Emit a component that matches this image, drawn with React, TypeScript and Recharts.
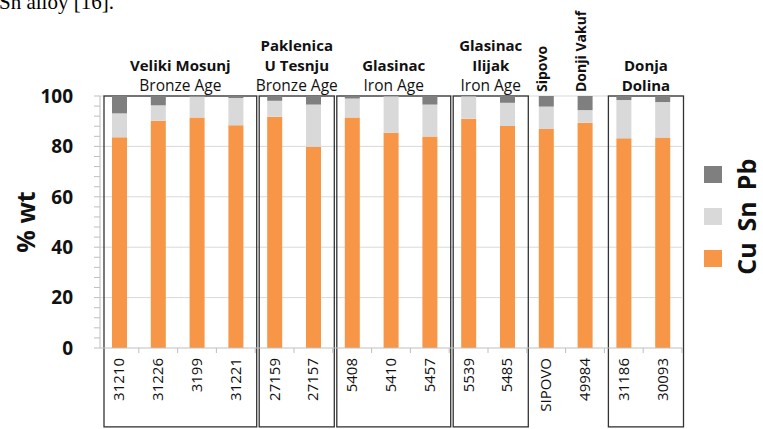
import React from 'react';
import {
  BarChart,
  Bar,
  XAxis,
  YAxis,
  CartesianGrid,
  Legend,
  ReferenceArea,
  Label,
} from 'recharts';

const categories = ['31210', '31226', '3199', '31221', '27159', '27157', '5408', '5410', '5457', '5539', '5485', 'SIPOVO', '49984', '31186', '30093'];
const cuValues = [83.6, 90.2, 91.5, 88.4, 91.8, 79.9, 91.5, 85.4, 83.9, 91.0, 88.1, 86.9, 89.4, 83.2, 83.5];
const snValues = [9.5, 6.1, 8.3, 10.8, 6.3, 16.7, 7.5, 14.5, 12.7, 8.9, 9.2, 8.9, 5.0, 15.2, 14.1];
const pbValues = [6.9, 3.7, 0.2, 0.8, 1.9, 3.4, 1.0, 0.1, 3.4, 0.1, 2.7, 4.2, 5.6, 1.6, 2.4];
const yTicks = [0, 4, 8, 12, 16, 20, 24, 28, 32, 36, 40, 44, 48, 52, 56, 60, 64, 68, 72, 76, 80, 84, 88, 92, 96, 100];
const yGridValues = [20, 40, 60, 80, 100];
const legendOrder = ['Pb', 'Sn', 'Cu']; // top to bottom

const groups = [
  { from: '31210', to: '31221', title: ['Veliki Mosunj'], sub: 'Bronze Age', vertical: false },
  { from: '27159', to: '27157', title: ['Paklenica', 'U Tesnju'], sub: 'Bronze Age', vertical: false },
  { from: '5408', to: '5457', title: ['Glasinac'], sub: 'Iron Age', vertical: false },
  { from: '5539', to: '5485', title: ['Glasinac', 'Ilijak'], sub: 'Iron Age', vertical: false },
  { from: 'SIPOVO', to: 'SIPOVO', title: ['Sipovo'], sub: '', vertical: true },
  { from: '49984', to: '49984', title: ['Donji Vakuf'], sub: '', vertical: true },
  { from: '31186', to: '30093', title: ['Donja', 'Dolina'], sub: '', vertical: false },
];

const colors: Record<string, string> = { Cu: '#F79646', Sn: '#D9D9D9', Pb: '#7F7F7F' };
const font = '"Open Sans", sans-serif';
const boxBottom = -31.3; // boxes run down past the axis labels
const boxTop = 100;

const data = categories.map((name, i) => ({
  name,
  Cu: cuValues[i],
  Sn: snValues[i],
  Pb: pbValues[i],
}));

function CategoryTick(props: any) {
  const { x, y, payload } = props;
  const half = payload?.offset ?? 19.4;
  return (
    <g>
      <line x1={x + half} x2={x + half} y1={y} y2={y + 5} stroke="#bfbfbf" />
      <text
        transform={`translate(${x + 5},${y + 10}) rotate(-90)`}
        textAnchor="end"
        fontFamily={font}
        fontSize={15}
        fill="#111"
      >
        {payload.value}
      </text>
    </g>
  );
}

const boxShape = (vertical: boolean) => (props: any) => {
  if (vertical) return <g />;
  const { x, y, width, height } = props;
  return <rect x={x + 4} y={y} width={width - 2.5} height={height} fill="none" stroke="#333" strokeWidth={1.3} />;
};

const groupLabel = (g: (typeof groups)[number]) => (props: any) => {
  const vb = props.viewBox;
  if (!vb) return null;
  if (g.vertical) {
    const cx = vb.x + vb.width / 2;
    return (
      <text
        transform={`translate(${cx + 1},${vb.y - 4}) rotate(-90)`}
        textAnchor="start"
        fontFamily={font}
        fontWeight="bold"
        fontSize={14}
        fill="#111"
      >
        {g.title[0]}
      </text>
    );
  }
  const cx = vb.x + vb.width / 2 + 2.75;
  const lines = g.sub ? [...g.title, g.sub] : g.title;
  const base = vb.y - 5;
  return (
    <g>
      {lines.map((line, i) => {
        const isSub = !!g.sub && i === lines.length - 1;
        return (
          <text
            key={i}
            x={cx}
            y={base - (lines.length - 1 - i) * 20}
            textAnchor="middle"
            fontFamily={font}
            fontWeight={isSub ? 'normal' : 'bold'}
            fontSize={isSub ? 15.5 : 15}
            fill="#111"
          >
            {line}
          </text>
        );
      })}
    </g>
  );
};

function LegendContent() {
  return (
    <svg width={63} height={160} style={{ overflow: 'visible' }}>
      {legendOrder.map((n, i) => (
        <g key={n}>
          <rect x={4} y={26 + i * 42} width={18} height={17} fill={colors[n]} />
          <text
            transform={`translate(56,${34.5 + i * 42}) rotate(-90)`}
            textAnchor="middle"
            fontFamily={font}
            fontWeight="bold"
            fontSize={25}
            fill="#111"
          >
            {n}
          </text>
        </g>
      ))}
    </svg>
  );
}

function AxisTitle(props: any) {
  const vb = props.viewBox;
  return (
    <text
      transform={`translate(35,${vb.y + vb.height / 2}) rotate(-90)`}
      textAnchor="middle"
      fontFamily={font}
      fontWeight="bold"
      fontSize={25}
      fill="#111"
    >
      % wt
    </text>
  );
}

export default function App() {
  return (
    <div style={{ position: 'absolute', left: 0, top: 0, width: 763, height: 429, overflow: 'hidden', background: '#fff' }}>
      <svg width={200} height={20} style={{ position: 'absolute', left: 0, top: 0 }}>
        <text x={-1} y={8.5} fontFamily='"Liberation Serif", serif' fontSize={21} fill="#000">
          Sn alloy [16].
        </text>
      </svg>
      <BarChart width={763} height={429} data={data} margin={{ top: 96, right: 81, bottom: 6, left: 0 }} barSize={15}>
        <CartesianGrid vertical={false} horizontalValues={yGridValues} stroke="#d9d9d9" />
        <XAxis
          dataKey="name"
          interval={0}
          height={75}
          tickSize={0}
          tickMargin={0}
          tickLine={false}
          axisLine={{ stroke: '#bfbfbf' }}
          tick={<CategoryTick />}
        />
        <YAxis
          width={100}
          domain={[0, 100]}
          ticks={yTicks}
          interval={0}
          tickSize={6}
          tickMargin={21}
          tickLine={{ stroke: '#bfbfbf' }}
          axisLine={{ stroke: '#bfbfbf' }}
          tickFormatter={(v) => (v % 20 === 0 ? String(v) : '')}
          tick={{ fontFamily: font, fontWeight: 'bold', fontSize: 19, fill: '#111' }}
        >
          <Label content={<AxisTitle />} />
        </YAxis>
        <Legend
          layout="vertical"
          align="center"
          verticalAlign="middle"
          wrapperStyle={{ left: 700, top: 140, width: 63, height: 160 }}
          content={<LegendContent />}
        />
        <Bar dataKey="Cu" stackId="a" fill={colors.Cu} isAnimationActive={false} />
        <Bar dataKey="Sn" stackId="a" fill={colors.Sn} isAnimationActive={false} />
        <Bar dataKey="Pb" stackId="a" fill={colors.Pb} isAnimationActive={false} />
        {groups.map((g) => (
          <ReferenceArea
            key={g.from}
            x1={g.from}
            x2={g.to}
            y1={boxBottom}
            y2={boxTop}
            ifOverflow="visible"
            shape={boxShape(g.vertical)}
            label={groupLabel(g)}
          />
        ))}
      </BarChart>
    </div>
  );
}
